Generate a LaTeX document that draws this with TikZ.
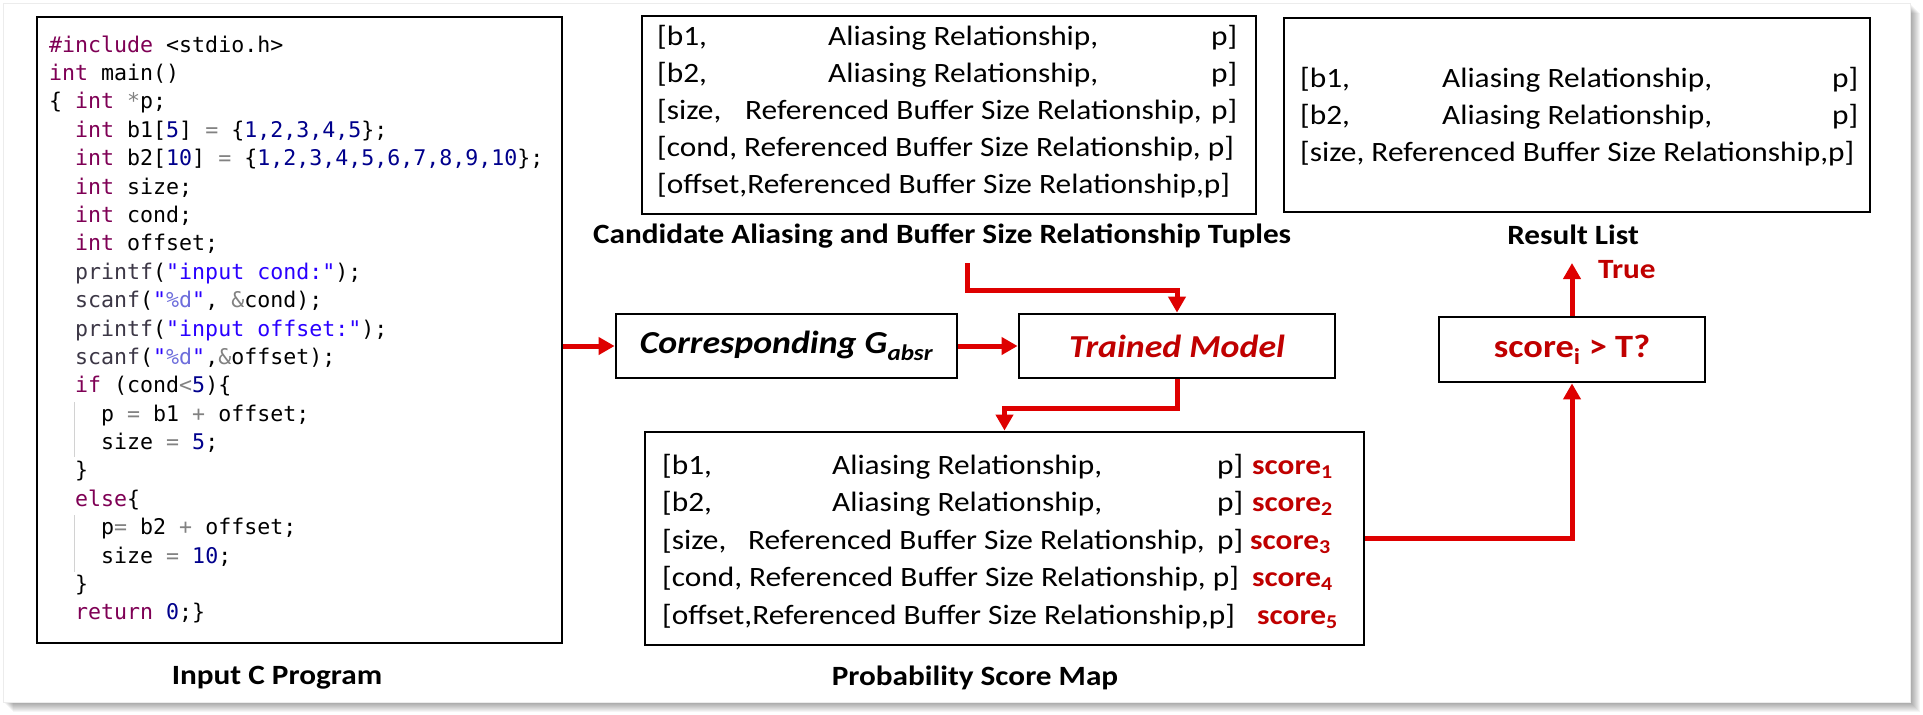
\documentclass[tikz,border=0pt]{standalone}
\usepackage{fontspec}
\setmainfont{Carlito}[FakeStretch=1.12]
\setmonofont{DejaVu Sans Mono}
\usetikzlibrary{arrows.meta}
\definecolor{arrred}{RGB}{222,0,0}
\definecolor{txtred}{RGB}{192,0,0}
\definecolor{kwc}{RGB}{127,0,85}
\definecolor{numc}{RGB}{0,0,140}
\definecolor{strc}{RGB}{42,0,255}
\definecolor{fmtc}{RGB}{110,110,220}
\definecolor{opc}{RGB}{130,130,130}
\definecolor{fnc}{RGB}{60,55,70}
\newcommand\ckw[1]{\textcolor{kwc}{#1}}
\newcommand\cnum[1]{\textcolor{numc}{#1}}
\newcommand\cstr[1]{\textcolor{strc}{#1}}
\newcommand\cfmt[1]{\textcolor{fmtc}{#1}}
\newcommand\cop[1]{\textcolor{opc}{#1}}
\newcommand\cfn[1]{\textcolor{fnc}{#1}}
\newcommand\tuple[5]{\hbox to #1{\hbox to #2{#3\hfil}#4\hfil #5}}
\newcommand\scr[1]{\textcolor{txtred}{\bfseries score\textsubscript{#1}}}
\newcommand\codefont{\fontsize{21.6}{28.4}\selectfont\ttfamily}
\newcommand\rowfont{\fontsize{28.0}{37.5}\selectfont}
\newcommand\lblfont{\fontsize{27.9}{33}\selectfont\bfseries}
\begin{document}
\begin{tikzpicture}[x=1pt,y=-1pt,
  box/.style={draw=black, line width=2.8pt, fill=white, inner sep=0pt},
  arr/.style={draw=arrred, line width=5pt, -{Triangle[length=16pt,width=17pt]}},
  rowtxt/.style={anchor=base west, inner sep=0pt, font=\rowfont},
  lbl/.style={anchor=base, inner sep=0pt, font=\lblfont},
  guide/.style={draw=gray!35, line width=1pt}]
\useasboundingbox (0,0) rectangle (1923,715);
\fill[white] (0,0) rectangle (1923,715);
% panel with soft shadow
\foreach \i in {2,...,10} {
  \fill[black, opacity=0.04] ({3+\i},{3+\i}) rectangle ({1910+\i},{702+\i});
}
\fill[white, draw=gray!15, line width=1pt] (3,3) rectangle (1910,702);

% boxes
\node[box, minimum width=525pt, minimum height=626pt] (code) at (299.5,330) {};
\node[box, minimum width=614pt, minimum height=198pt] (cand) at (949,115) {};
\node[box, minimum width=586pt, minimum height=194pt] (res) at (1577,115) {};
\node[box, minimum width=341pt, minimum height=64pt] (corr) at (786.5,346) {};
\node[box, minimum width=316pt, minimum height=64pt] (trained) at (1177,346) {};
\node[box, minimum width=719pt, minimum height=213pt] (prob) at (1004.5,538.5) {};
\node[box, minimum width=266pt, minimum height=65pt] (score) at (1572,349.5) {};

% code
\node[anchor=base west, inner sep=0pt, font=\codefont] (codetext) at (49,52) {%
\begin{tabular}[t]{@{}l@{}}
\ckw{\#include} <stdio.h>\\
\ckw{int} main()\\
\{ \ckw{int} \cop{*}p;\\
\phantom{xx}\ckw{int} b1[\cnum{5}] \cop{=} \{\cnum{1,2,3,4,5}\};\\
\phantom{xx}\ckw{int} b2[\cnum{10}] \cop{=} \{\cnum{1,2,3,4,5,6,7,8,9,10}\};\\
\phantom{xx}\ckw{int} size;\\
\phantom{xx}\ckw{int} cond;\\
\phantom{xx}\ckw{int} offset;\\
\phantom{xx}\cfn{printf}(\cstr{"input cond:"});\\
\phantom{xx}\cfn{scanf}(\cstr{"}\cfmt{\%d}\cstr{"}, \cop{\&}cond);\\
\phantom{xx}\cfn{printf}(\cstr{"input offset:"});\\
\phantom{xx}\cfn{scanf}(\cstr{"}\cfmt{\%d}\cstr{"},\cop{\&}offset);\\
\phantom{xx}\ckw{if} (cond\cop{<}\cnum{5})\{\\
\phantom{xxxx}p \cop{=} b1 \cop{+} offset;\\
\phantom{xxxx}size \cop{=} \cnum{5};\\
\phantom{xx}\}\\
\phantom{xx}\ckw{else}\{\\
\phantom{xxxx}p\cop{=} b2 \cop{+} offset;\\
\phantom{xxxx}size \cop{=} \cnum{10};\\
\phantom{xx}\}\\
\phantom{xx}\ckw{return} \cnum{0};\}
\end{tabular}};
\draw[guide] (74,402) -- (74,457);
\draw[guide] (74,515) -- (74,572);
\node[lbl] (codelbl) at (277,684) {Input C Program};

% candidate tuples
\node[rowtxt] (c1) at (657,45)  {\tuple{580pt}{171pt}{[b1,}{Aliasing Relationship,}{p]}};
\node[rowtxt] (c2) at (657,82)  {\tuple{580pt}{171pt}{[b2,}{Aliasing Relationship,}{p]}};
\node[rowtxt] (c3) at (657,119) {\tuple{580pt}{88pt}{[size,}{Referenced Buffer Size Relationship,}{p]}};
\node[rowtxt] (c4) at (657,156) {[cond, Referenced Buffer Size Relationship, p]};
\node[rowtxt] (c5) at (657,193) {[offset,Referenced Buffer Size Relationship,p]};
\node[lbl] (candlbl) at (942,243) {Candidate Aliasing and Buffer Size Relationship Tuples};

% result list
\node[rowtxt] (r1) at (1300,87)  {\tuple{558pt}{142pt}{[b1,}{Aliasing Relationship,}{p]}};
\node[rowtxt] (r2) at (1300,124) {\tuple{558pt}{142pt}{[b2,}{Aliasing Relationship,}{p]}};
\node[rowtxt] (r3) at (1300,161) {[size, Referenced Buffer Size Relationship,p]};
\node[lbl] (reslbl) at (1573,244) {Result List};

% middle row
\node[inner sep=0pt, font=\fontsize{32}{38}\selectfont\bfseries\itshape] (corrtxt) at (corr) {Corresponding G\textsubscript{absr}};
\node[inner sep=0pt, font=\fontsize{32}{38}\selectfont\bfseries\itshape, text=txtred] (trtxt) at (trained) {Trained Model};
\node[inner sep=0pt, font=\fontsize{32.5}{38}\selectfont\bfseries, text=txtred] (scoretxt) at (score) {score\textsubscript{i} > T?};

% probability score map
\node[rowtxt] (p1) at (662,474)   {\tuple{581pt}{170pt}{[b1,}{Aliasing Relationship,}{p]}};
\node[rowtxt] (p2) at (662,511.5) {\tuple{581pt}{170pt}{[b2,}{Aliasing Relationship,}{p]}};
\node[rowtxt] (p3) at (662,549)   {\tuple{581pt}{86pt}{[size,}{Referenced Buffer Size Relationship,}{p]}};
\node[rowtxt] (p4) at (662,586.5) {[cond, Referenced Buffer Size Relationship, p]};
\node[rowtxt] (p5) at (662,624)   {[offset,Referenced Buffer Size Relationship,p]};
\node[rowtxt] (s1) at (1252,474)   {\scr{1}};
\node[rowtxt] (s2) at (1252,511.5) {\scr{2}};
\node[rowtxt] (s3) at (1250,549)   {\scr{3}};
\node[rowtxt] (s4) at (1252,586.5) {\scr{4}};
\node[rowtxt] (s5) at (1257,624)   {\scr{5}};
\node[lbl] (problbl) at (975,685) {Probability Score Map};

\node[lbl, anchor=base west, text=txtred] (truelbl) at (1598,278) {True};

% connectors
\coordinate (cstart) at (967,263);
\coordinate (ttop) at (1572,263);
\draw[arr] (code.east |- corr.west) -- (corr.west);
\draw[arr] (corr.east) -- (trained.west);
\draw[arr] (cstart) -- ++(0,27) -| (trained.north);
\draw[arr] (trained.south) -- ++(0,29) -| (prob.north);
\draw[arr] (prob.east) -| (score.south);
\draw[arr] (score.north) -- (ttop);
\end{tikzpicture}
\end{document}
